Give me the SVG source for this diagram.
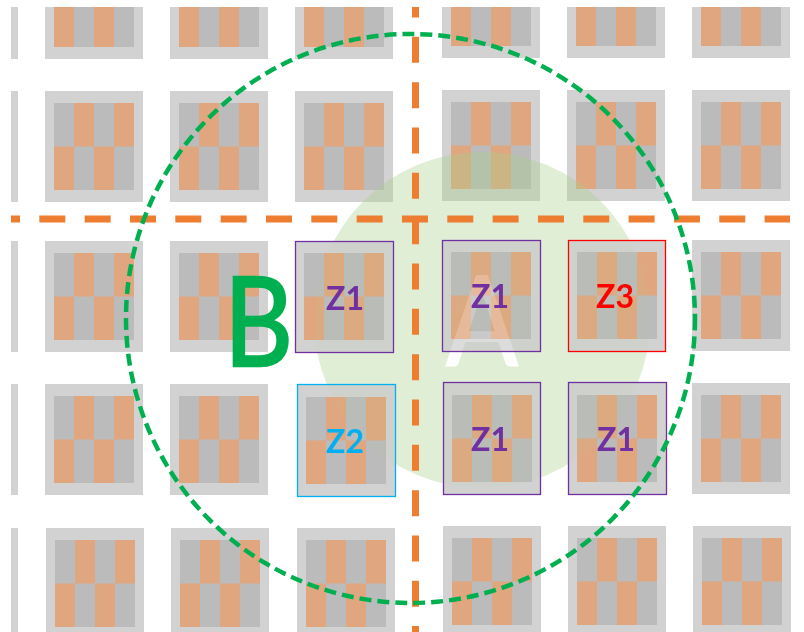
<svg xmlns="http://www.w3.org/2000/svg" xmlns:xlink="http://www.w3.org/1999/xlink" width="804" height="632" viewBox="0 0 804 632">
<style>
.lbl{font-family:Lato,"Open Sans","Liberation Sans",sans-serif;font-weight:700;font-size:32px;text-anchor:middle}
.big{font-family:Lato,"Open Sans","Liberation Sans",sans-serif;font-size:125px}
.road{stroke:#ED7D31;stroke-width:7;stroke-dasharray:26 19.33;fill:none}
.ring{stroke:#00B050;stroke-width:4.5;stroke-dasharray:12 6;fill:none}
.z1{stroke:#7030A0;fill:none;stroke-width:1.3}
</style>
<defs>
<clipPath id="clip"><rect x="11" y="7" width="793" height="625"/></clipPath>
<g id="tile">
<rect width="98" height="111" fill="#D2D2D2"/>
<rect x="9" y="12" width="80" height="87" fill="#BBBBBB"/>
<rect x="29" y="12" width="20" height="43.5" fill="#E0A680"/>
<rect x="69" y="12" width="20" height="43.5" fill="#E0A680"/>
<rect x="9" y="55.5" width="20" height="43.5" fill="#E0A680"/>
<rect x="49" y="55.5" width="20" height="43.5" fill="#E0A680"/>
</g>
</defs>
<rect width="804" height="632" fill="#FFFFFF"/>
<g clip-path="url(#clip)">
<g id="tiles">
<use xlink:href="#tile" x="-80" y="-52"/><use xlink:href="#tile" x="45" y="-52"/><use xlink:href="#tile" x="170" y="-52"/><use xlink:href="#tile" x="295" y="-52"/><use xlink:href="#tile" x="442" y="-53"/><use xlink:href="#tile" x="567" y="-53"/><use xlink:href="#tile" x="692" y="-53"/>
<use xlink:href="#tile" x="-80" y="91"/><use xlink:href="#tile" x="45" y="91"/><use xlink:href="#tile" x="170" y="91"/><use xlink:href="#tile" x="295" y="91"/><use xlink:href="#tile" x="442" y="90"/><use xlink:href="#tile" x="567" y="90"/><use xlink:href="#tile" x="692" y="90"/>
<use xlink:href="#tile" x="-80" y="241"/><use xlink:href="#tile" x="45" y="241"/><use xlink:href="#tile" x="170" y="241"/><use xlink:href="#tile" x="295" y="241"/><use xlink:href="#tile" x="442" y="240"/><use xlink:href="#tile" x="568" y="240"/><use xlink:href="#tile" x="692" y="240"/>
<use xlink:href="#tile" x="-80" y="384"/><use xlink:href="#tile" x="45" y="384"/><use xlink:href="#tile" x="170" y="384"/><use xlink:href="#tile" x="297" y="385"/><use xlink:href="#tile" x="443" y="383"/><use xlink:href="#tile" x="568" y="383"/><use xlink:href="#tile" x="692" y="383"/>
<use xlink:href="#tile" x="-80" y="528"/><use xlink:href="#tile" x="46" y="528"/><use xlink:href="#tile" x="171" y="528"/><use xlink:href="#tile" x="297" y="528"/><use xlink:href="#tile" x="443" y="526"/><use xlink:href="#tile" x="568" y="526"/><use xlink:href="#tile" x="693" y="526"/>
</g>
<g id="zoneA">
<circle cx="482" cy="320" r="168" fill="#A9D18E" fill-opacity="0.36"/>
<text class="big" x="446" y="365" fill="#FFFFFF" fill-opacity="0.92" stroke="#FFFFFF" stroke-opacity="0.92" stroke-width="2" textLength="72" lengthAdjust="spacingAndGlyphs">A</text>
</g>
<g id="central-tiles" opacity="0.78">
<use xlink:href="#tile" x="295" y="241"/><use xlink:href="#tile" x="442" y="240"/><use xlink:href="#tile" x="568" y="240"/>
<use xlink:href="#tile" x="297" y="385"/><use xlink:href="#tile" x="443" y="383"/><use xlink:href="#tile" x="568" y="383"/>
</g>
<g id="z1-a"><rect class="z1" x="295.5" y="241.5" width="98" height="111"/><text class="lbl" x="345" y="310" fill="#7030A0">Z1</text></g>
<g id="z1-b"><rect class="z1" x="442.5" y="240.5" width="98" height="111"/><text class="lbl" x="490" y="308" fill="#7030A0">Z1</text></g>
<g id="z3"><rect x="568.5" y="240.5" width="97" height="111" fill="none" stroke="#FF0000" stroke-width="1.3"/><text class="lbl" x="615" y="308" fill="#FF0000">Z3</text></g>
<g id="z2"><rect x="297.5" y="384.5" width="98" height="112" fill="none" stroke="#00B0F0" stroke-width="1.3"/><text class="lbl" x="345" y="453" fill="#00B0F0">Z2</text></g>
<g id="z1-c"><rect class="z1" x="443.5" y="382.5" width="97" height="112"/><text class="lbl" x="490" y="451" fill="#7030A0">Z1</text></g>
<g id="z1-d"><rect class="z1" x="568.5" y="382.5" width="98" height="112"/><text class="lbl" x="616" y="451" fill="#7030A0">Z1</text></g>
<g id="connectors">
<line class="road" x1="-6" y1="219" x2="790" y2="219"/>
<line class="road" x1="415.5" y1="-8.5" x2="415.5" y2="640"/>
<circle class="ring" cx="410.5" cy="318.5" r="284.5"/>
</g>
<g id="zoneB">
<text class="big" x="224" y="366" fill="#00B050" stroke="#00B050" stroke-width="2.5" textLength="69" lengthAdjust="spacingAndGlyphs">B</text>
</g>
</g>
</svg>
